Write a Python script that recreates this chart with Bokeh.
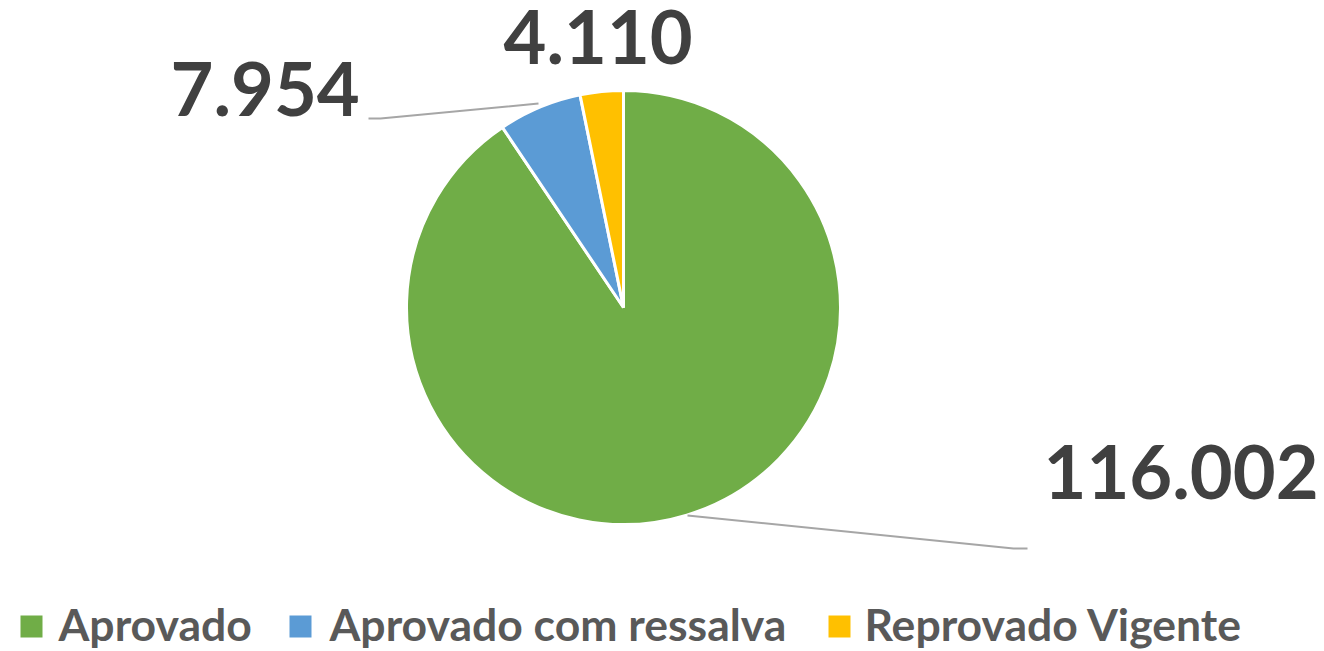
import numpy as np
from bokeh.plotting import figure
from bokeh.models import Range1d
from bokeh.core.properties import value
from bokeh.embed import file_html
from bokeh.resources import INLINE

categories = ["Aprovado", "Aprovado com ressalva", "Reprovado Vigente"]
values = [116002, 7954, 4110]
labels = ["116.002", "7.954", "4.110"]
colors = ["#70AD47", "#5B9BD5", "#FFC000"]

W, H = 1324, 651
p = figure(width=W, height=H, output_backend="svg", toolbar_location=None,
           x_range=Range1d(0, W), y_range=Range1d(0, H), min_border=0)
p.axis.visible = False
p.grid.visible = False
p.outline_line_color = None
p.background_fill_color = "white"
p.border_fill_color = "white"

def sx(x):  # screen px -> data
    return x
def sy(y):
    return H - y

cx, cy, r = sx(623), sy(307), 217
vals = np.array(values, dtype=float)
frac = vals / vals.sum()
cum = np.concatenate([[0], np.cumsum(frac)])
start = np.pi / 2 - 2 * np.pi * cum[:-1]
end = np.pi / 2 - 2 * np.pi * cum[1:]
p.wedge(x=cx, y=cy, radius=r, start_angle=end, end_angle=start,
        fill_color=colors, line_color="white", line_width=3)

font = value("Lato")

# leader lines
p.line([sx(687), sx(1013), sx(1027)], [sy(515), sy(548), sy(548)], line_color="#A6A6A6", line_width=2)
p.line([sx(538), sx(380), sx(368)], [sy(103), sy(118), sy(118)], line_color="#A6A6A6", line_width=2)

# data labels
lx = [sx(1043), sx(170), sx(503)]
ly = [sy(471), sy(88), sy(36)]
p.text(x=lx, y=ly, text=labels, text_font=font, text_font_style="bold",
       text_font_size="74px", text_color="#404040", text_baseline="alphabetic", text_align="left")

# legend
sq_x = [sx(31), sx(300), sx(839)]
tx = [sx(58), sx(329), sx(864)]
p.rect(x=sq_x, y=sy(626), width=22, height=22, fill_color=colors, line_color=None)
p.text(x=tx, y=sy(623), text=categories, text_font=font, text_font_style="bold",
       text_font_size="44.5px", text_color="#595959", text_baseline="alphabetic", text_align="left")

html = file_html(p, INLINE)
html = html.replace("<head>", "<head><style>html,body{margin:0;padding:0;overflow:hidden}</style>", 1)
open("out.html", "w").write(html)
